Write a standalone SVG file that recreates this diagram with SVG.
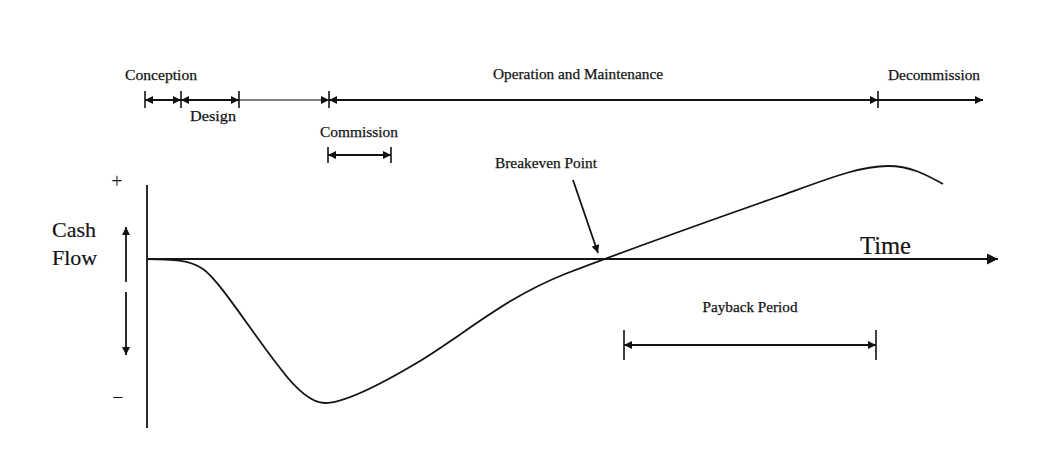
<svg xmlns="http://www.w3.org/2000/svg" width="1043" height="462" viewBox="0 0 1043 462">
<defs>
<style>
.ln{stroke:#141414;stroke-width:1.8;fill:none}
.lt{stroke:#555;stroke-width:1.5;fill:none}
.tk{stroke:#141414;stroke-width:1.6}
.lbl{font-family:"Liberation Serif","Times New Roman",serif;font-size:15px;fill:#141414;stroke:#141414;stroke-width:0.25}
.big{font-family:"Liberation Serif","Times New Roman",serif;font-size:22px;fill:#141414;stroke:#141414;stroke-width:0.2}
.sym{font-family:"Liberation Serif","Times New Roman",serif;font-size:20px;fill:#141414}
</style>
<marker id="ah" viewBox="0 0 10 10" refX="10" refY="5" markerWidth="10" markerHeight="8" orient="auto-start-reverse" markerUnits="userSpaceOnUse">
<path d="M0,0 L10,5 L0,10 z" fill="#111"/>
</marker>
<marker id="ahb" viewBox="0 0 10 10" refX="10" refY="5" markerWidth="13" markerHeight="11" orient="auto-start-reverse" markerUnits="userSpaceOnUse">
<path d="M0,0 L10,5 L0,10 z" fill="#111"/>
</marker>
</defs>
<rect width="1043" height="462" fill="#fff"/>

<g id="connectors">
<line class="ln" x1="145" y1="100" x2="181" y2="100" marker-start="url(#ah)" marker-end="url(#ah)"/>
<line class="ln" x1="181" y1="100" x2="239" y2="100" marker-start="url(#ah)" marker-end="url(#ah)"/>
<line class="lt" x1="239" y1="100" x2="329" y2="100" marker-end="url(#ah)"/>
<line class="ln" x1="329" y1="100" x2="878" y2="100" marker-start="url(#ah)" marker-end="url(#ah)"/>
<line class="ln" x1="878" y1="100" x2="983" y2="100" marker-end="url(#ah)"/>
<line class="tk" x1="145" y1="91" x2="145" y2="108"/>
<line class="tk" x1="181" y1="91" x2="181" y2="108"/>
<line class="tk" x1="239" y1="91" x2="239" y2="108"/>
<line class="tk" x1="329" y1="91" x2="329" y2="108"/>
<line class="tk" x1="878" y1="91" x2="878" y2="108"/>
<line class="ln" x1="328" y1="155" x2="391" y2="155" marker-start="url(#ah)" marker-end="url(#ah)"/>
<line class="tk" x1="328" y1="147" x2="328" y2="163"/>
<line class="tk" x1="391" y1="147" x2="391" y2="163"/>
<line class="ln" x1="147" y1="185" x2="147" y2="428"/>
<line class="ln" x1="147" y1="259" x2="998" y2="259" marker-end="url(#ahb)"/>
<line class="ln" x1="126" y1="282" x2="126" y2="227" marker-end="url(#ah)"/>
<line class="ln" x1="126" y1="292" x2="126" y2="355" marker-end="url(#ah)"/>
<line class="ln" x1="573" y1="180" x2="598" y2="253" marker-end="url(#ah)"/>
<line class="ln" x1="624" y1="345" x2="876" y2="345" marker-start="url(#ah)" marker-end="url(#ah)"/>
<line class="tk" x1="624" y1="330" x2="624" y2="360"/>
<line class="tk" x1="876" y1="330" x2="876" y2="360"/>
<path class="ln" d="M147,259 C172,259 190,260 203,269 C220,281 250,330 280,368 C295,388 310,403 325,403 C345,403 380,385 420,361 C470,330 505,298 565,274 C625,251 700,224 780,196 C830,178 860,166 888,166 C910,166 925,174 943,184"/>
</g>

<g id="conception"><text class="lbl" x="161" y="80" text-anchor="middle" textLength="72" lengthAdjust="spacingAndGlyphs">Conception</text></g>
<g id="design"><text class="lbl" x="213" y="121" text-anchor="middle" textLength="46" lengthAdjust="spacingAndGlyphs">Design</text></g>
<g id="operation"><text class="lbl" x="578" y="79" text-anchor="middle" textLength="170" lengthAdjust="spacingAndGlyphs">Operation and Maintenance</text></g>
<g id="decommission"><text class="lbl" x="934" y="80" text-anchor="middle" textLength="92" lengthAdjust="spacingAndGlyphs">Decommission</text></g>
<g id="commission"><text class="lbl" x="359" y="137" text-anchor="middle" textLength="78" lengthAdjust="spacingAndGlyphs">Commission</text></g>
<g id="breakeven"><text class="lbl" x="546" y="168" text-anchor="middle" textLength="102" lengthAdjust="spacingAndGlyphs">Breakeven Point</text></g>
<g id="payback"><text class="lbl" x="750" y="312" text-anchor="middle" textLength="95" lengthAdjust="spacingAndGlyphs">Payback Period</text></g>
<g id="time"><text class="big" x="860" y="254" style="font-size:25px" textLength="51" lengthAdjust="spacingAndGlyphs">Time</text></g>
<g id="cashflow">
<text class="big" x="52" y="237">Cash</text>
<text class="big" x="52" y="265">Flow</text>
</g>
<g id="plus"><text class="sym" x="117" y="188" text-anchor="middle">+</text></g>
<g id="minus"><text class="sym" x="118" y="404" text-anchor="middle">−</text></g>
</svg>
